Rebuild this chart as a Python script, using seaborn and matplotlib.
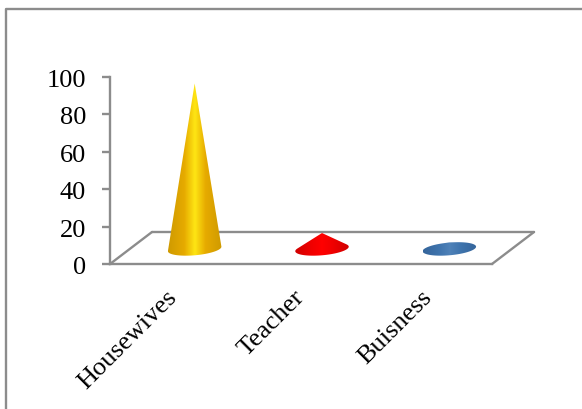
import numpy as np
import pandas as pd
import matplotlib
matplotlib.use("Agg")
import matplotlib.pyplot as plt
from matplotlib.colors import LinearSegmentedColormap
from matplotlib.lines import Line2D
from matplotlib.patches import PathPatch
from matplotlib.path import Path
from matplotlib.transforms import Affine2D
import seaborn as sns

# Occupation shares (percent)
occupations = ["Housewives", "Teacher", "Buisness"]
shares = [88, 8, 3]

# Rim, flank and highlight colours of each cone
edge_colors = ["#cf9a00", "#d00000", "#35659b"]
flank_colors = ["#e6aa00", "#f00000", "#3f74ad"]
glow_colors = ["#ffe614", "#ff0000", "#4f82b8"]

sns.set_theme(style="white")
plt.rcParams["font.family"] = ["Liberation Serif", "DejaVu Serif"]

GREY = "#8c8c8c"
LINE = 1.7
W, H = 582, 409
fig = plt.figure(figsize=(W / 100, H / 100), dpi=100, facecolor="white")
ax = fig.add_axes([110 / W, 1 - 264 / H, 382 / W, 187 / H], facecolor="none")

df = pd.DataFrame({"occupation": occupations, "share": shares})
sns.barplot(data=df, x="occupation", y="share", hue="occupation",
            palette=glow_colors, width=0.42, legend=False, ax=ax)
ax.set_xlim(-0.5, 2.5)
ax.set_ylim(0, 100)
ax.set_yticks(range(0, 101, 20))
ax.set_xlabel("")
ax.set_ylabel("")

for side in ("top", "right"):
    ax.spines[side].set_visible(False)
for side in ("left", "bottom"):
    ax.spines[side].set_color(GREY)
    ax.spines[side].set_linewidth(LINE)
ax.tick_params(axis="y", length=5.5, width=LINE, color=GREY, left=True,
               labelsize=19, pad=11, labelcolor="black")
ax.tick_params(axis="x", length=0, labelsize=19, pad=16, labelcolor="black")
for label in ax.get_xticklabels():
    label.set_rotation(45)
    label.set_ha("right")
    label.set_va("top")
    label.set_rotation_mode("anchor")
    label.set_transform(label.get_transform() + Affine2D().translate(-8, 0))
for label in ax.get_yticklabels():
    label.set_transform(label.get_transform() + Affine2D().translate(-1, -1.5))

# Receding floor of the 3-D plot box
floor_shift = Affine2D().translate(42, 32)
back = ax.transAxes + floor_shift
ax.add_line(Line2D([0, 1], [0, 0], color=GREY, lw=LINE, clip_on=False, transform=back))
for x_pos in (0, 1):
    p0 = ax.transAxes.transform((x_pos, 0))
    p1 = back.transform((x_pos, 0))
    ax.add_line(Line2D([p0[0], p1[0]], [p0[1], p1[1]], color=GREY, lw=LINE,
                       clip_on=False, transform=Affine2D()))


def convex_hull(points):
    pts = sorted(map(tuple, points))
    def half(seq):
        out = []
        for p in seq:
            while len(out) > 1 and ((out[-1][0] - out[-2][0]) * (p[1] - out[-2][1])
                                    - (out[-1][1] - out[-2][1]) * (p[0] - out[-2][0])) <= 0:
                out.pop()
            out.append(p)
        return out[:-1]
    return half(pts) + half(pts[::-1])


# Cones stand mid-way into the floor, on top of each seaborn bar's geometry
cone_shift = Affine2D().translate(21, 16)
cone_transform = ax.transData + cone_shift
bars = [p for p in ax.patches if p.get_width() > 0]
theta = np.linspace(0, 2 * np.pi, 90)
for bar, edge, flank, glow in zip(bars, edge_colors, flank_colors, glow_colors):
    bar.set_visible(False)
    left, width, value = bar.get_x(), bar.get_width(), bar.get_height()
    cx = left + width / 2
    ex = cx + width / 2 * np.cos(theta)
    ey = 3.4 * np.sin(theta) + 1.2 * np.cos(theta) - 0.5
    verts = convex_hull(list(zip(ex, ey)) + [(cx, value)])
    verts.append(verts[0])
    clip = PathPatch(Path(verts), transform=cone_transform, facecolor="none",
                     edgecolor="none")
    ax.add_patch(clip)
    cmap = LinearSegmentedColormap.from_list(
        "cone", [(0, edge), (0.3, flank), (0.5, glow), (0.7, flank), (1, edge)], N=256)
    ramp = np.linspace(0, 1, 128)[None, :]
    img = ax.imshow(ramp, cmap=cmap, aspect="auto", interpolation="bilinear",
                    extent=[left, left + width, -6, value + 1], zorder=3)
    img.set_transform(cone_transform)
    img.set_clip_path(clip)

ax.set_xlim(-0.5, 2.5)
ax.set_ylim(0, 100)

# Chart-area border, running off the top right of the canvas
fig.add_artist(Line2D([6 / W, 6 / W, 1], [0, 1 - 8.5 / H, 1 - 8.5 / H],
                      color=GREY, lw=LINE, transform=fig.transFigure))

fig.savefig("out.png", dpi=100, facecolor="white")
